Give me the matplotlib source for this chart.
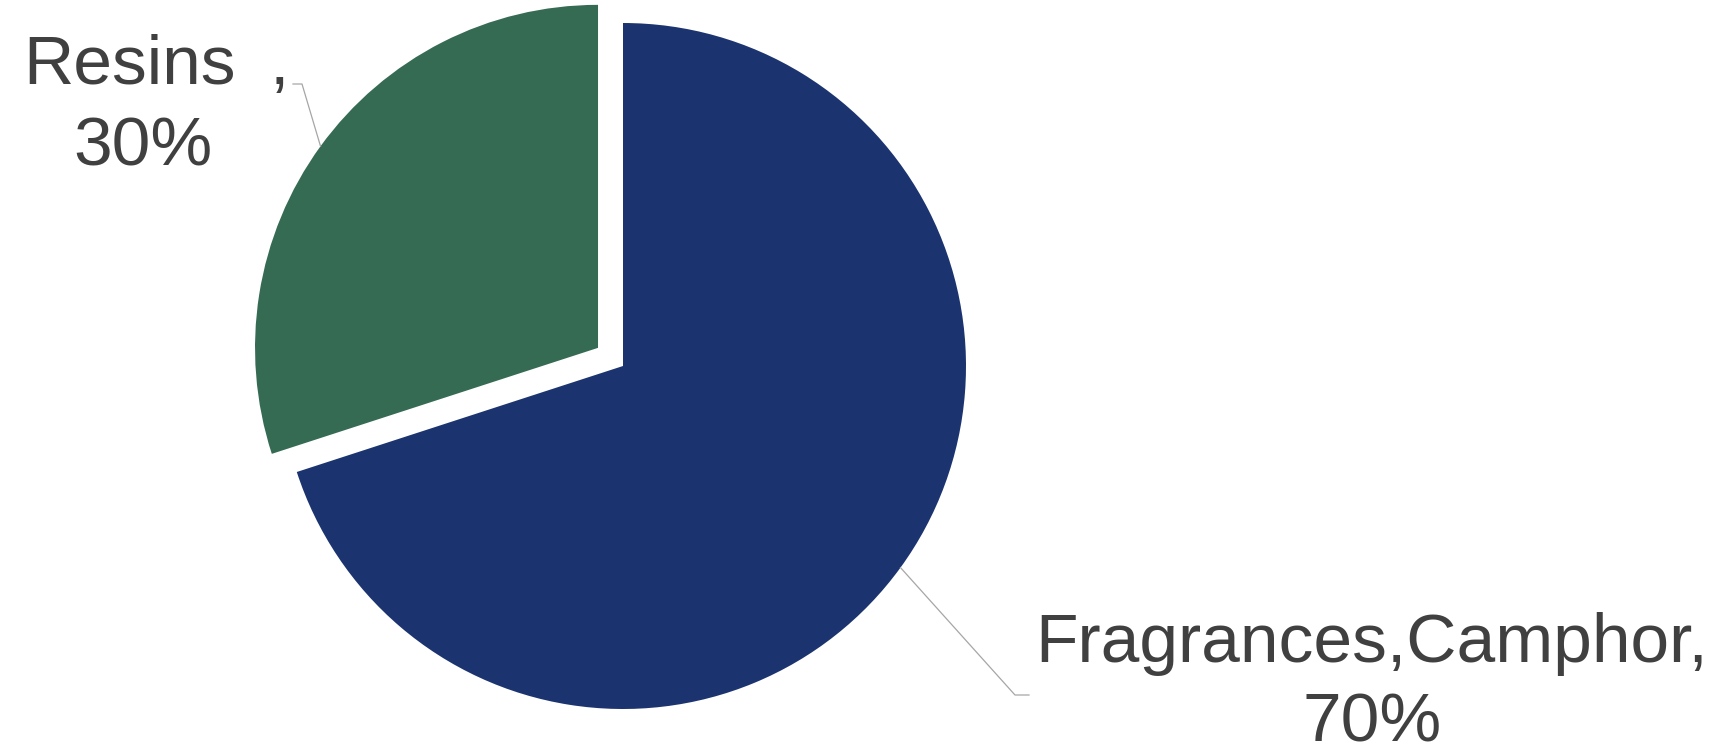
import numpy as np
import matplotlib.pyplot as plt

categories = ['Fragrances,Camphor', 'Resins']
shares = [70, 30]
colors = ['#1B336F', '#356A53']

W, H = 1727, 747
fig = plt.figure(figsize=(W / 100, H / 100), dpi=100)
ax = fig.add_axes([0, 0, 1, 1])

radius = 343
center = (623, H - 366)
# pie() adds explode in data units, so scale it by the radius
explode = [0, 0.09 * radius]
wedges, _ = ax.pie(shares, colors=colors, explode=explode, startangle=90,
                   counterclock=False, radius=radius, center=center,
                   wedgeprops=dict(linewidth=0))
ax.set_xlim(0, W)
ax.set_ylim(0, H)
ax.set_aspect('auto')
ax.axis('off')

txt = dict(color='#404040', fontsize=50, family='Liberation Sans')
line = dict(color='#A6A6A6', linewidth=0.9)


def edge_point(w):
    # point on the outer arc at the middle of a wedge
    mid = np.deg2rad((w.theta1 + w.theta2) / 2)
    cx, cy = w.center
    return cx + w.r * np.cos(mid), cy + w.r * np.sin(mid)


# Fragrances, Camphor label (lower right)
x0, y0 = edge_point(wedges[0])
ax.plot([x0, 1015, 1029], [y0, H - 695, H - 695], **line)
ax.text(1372, H - 662, categories[0] + ',', ha='center', va='baseline', **txt)
ax.text(1372, H - 742, f'{shares[0]}%', ha='center', va='baseline', **txt)

# Resins label (upper left)
x1, y1 = edge_point(wedges[1])
ax.plot([x1, 302, 293], [y1, H - 84, H - 84], **line)
ax.text(23, H - 84, categories[1], ha='left', va='baseline', **txt)
ax.text(279, H - 84, ',', ha='center', va='baseline', **txt)
ax.text(143, H - 165, f'{shares[1]}%', ha='center', va='baseline', **txt)

fig.savefig('out.png', dpi=100, facecolor='white')
